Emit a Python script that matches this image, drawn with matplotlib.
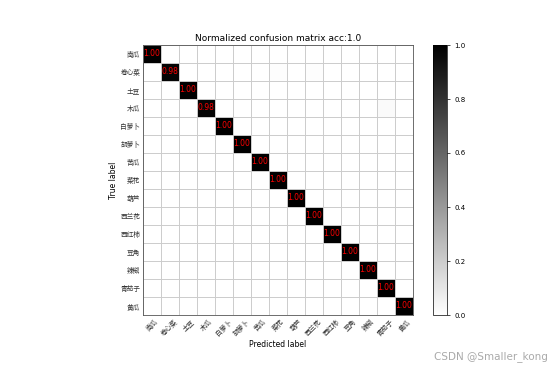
import numpy as np
import matplotlib
matplotlib.use("Agg")
import matplotlib.pyplot as plt

plt.rcParams['font.family'] = ['DejaVu Sans', 'Noto Sans CJK SC']

classes = ['南瓜', '卷心菜', '土豆', '木瓜', '白萝卜', '胡萝卜', '苦瓜', '菜花',
           '葫芦', '西兰花', '西红柿', '豆角', '辣椒', '青茄子', '黄瓜']
diag = [1.00, 0.98, 1.00, 0.98, 1.00, 1.00, 1.00, 1.00,
        1.00, 1.00, 1.00, 1.00, 1.00, 1.00, 1.00]
# small off-diagonal errors (row, col, value)
errors = [(1, 7, 0.01), (1, 9, 0.01), (3, 13, 0.02)]

n = len(classes)
cm = np.zeros((n, n))
for i, v in enumerate(diag):
    cm[i, i] = v
for r, c, v in errors:
    cm[r, c] = v

W, H = 553, 369
fig = plt.figure(figsize=(W / 100, H / 100), dpi=100)
# pixel aligned axes: 15 cells x 18 px
ax = fig.add_axes([143 / W, 54 / H, 270 / W, 270 / H])
cax = fig.add_axes([433 / W, 54 / H, 14 / W, 270 / H])

im = ax.imshow(cm, interpolation='nearest', cmap=plt.cm.binary, vmin=0, vmax=1, aspect='auto')
ax.set_title('Normalized confusion matrix acc:1.0', fontsize=6.5, pad=3)
cb = fig.colorbar(im, cax=cax)
cb.ax.tick_params(labelsize=5, length=2, width=0.5)
cb.outline.set_linewidth(0.5)

ax.set_xticks(np.arange(n))
ax.set_yticks(np.arange(n))
ax.set_xticklabels(classes, rotation=45, fontsize=4.8, family=['Noto Sans CJK SC', 'DejaVu Sans'])
ax.set_yticklabels(classes, fontsize=4.8, family=['Noto Sans CJK SC', 'DejaVu Sans'])
ax.tick_params(length=0, pad=2, labelcolor='#333333')

ax.set_xticks(np.arange(n + 1) - 0.5, minor=True)
ax.set_yticks(np.arange(n + 1) - 0.5, minor=True)
ax.grid(which='minor', color='#cccccc', linestyle='-', linewidth=0.7)
ax.tick_params(which='minor', length=0)

for i in range(n):
    for j in range(n):
        if cm[i, j] > 0.5:
            ax.text(j, i, format(cm[i, j], '.2f'), ha='center', va='center',
                    color='red', fontsize=5.5)

ax.set_ylabel('True label', fontsize=5.5, labelpad=2)
ax.set_xlabel('Predicted label', fontsize=5.5, labelpad=2)
for s in ax.spines.values():
    s.set_linewidth(0.6)
    s.set_color('#555555')

fig.text(0.99, 0.02, 'CSDN @Smaller_kong', ha='right', va='bottom', fontsize=7.5, color='#aaaaaa')

fig.savefig('out.png', dpi=100)
